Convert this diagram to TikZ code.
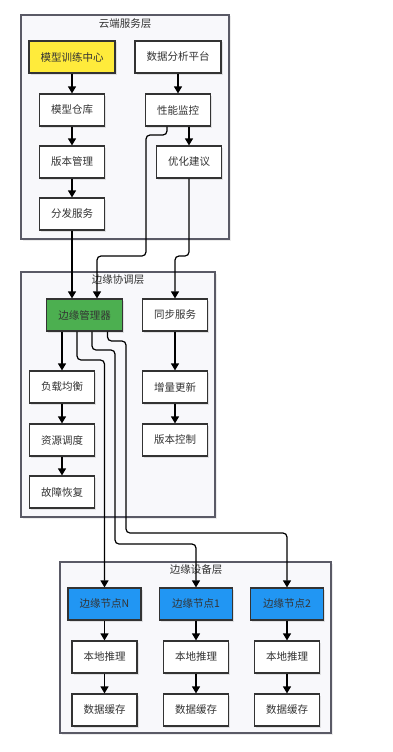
\documentclass[tikz,border=0pt]{standalone}
\usepackage{fontspec}
\setmainfont{Noto Sans CJK SC}
\usetikzlibrary{arrows.meta, shadows}

\definecolor{layerfill}{HTML}{F8F8FB}
\definecolor{layerline}{HTML}{5A5A66}
\definecolor{boxline}{HTML}{333333}
\definecolor{trainfill}{HTML}{FFEB3B}
\definecolor{mgrfill}{HTML}{4CAF50}
\definecolor{edgefill}{HTML}{2196F3}

\begin{document}
\begin{tikzpicture}[x=1pt, y=-1pt, font=\fontsize{10.5}{12}\selectfont, text=boxline,
    layer/.style={draw=layerline, fill=layerfill, line width=1.2pt,
      drop shadow={opacity=0.15, shadow xshift=1.5pt, shadow yshift=-1.5pt}},
    title/.style={inner sep=0pt},
    box/.style={draw=boxline, fill=white, line width=1.2pt, minimum width=65pt,
      minimum height=32pt, inner sep=2pt,
      drop shadow={opacity=0.2, shadow xshift=1.5pt, shadow yshift=-1.5pt}},
    wide/.style={box, minimum width=86pt},
    flow/.style={-{Triangle[width=8pt, length=7pt]}, draw=black, line width=1.2pt,
      rounded corners=4pt}]
    \useasboundingbox (0,0) rectangle (392,752);

    % layers
    \draw[layer] (21,15) rectangle (229,239);
    \node[title] (cloudtitle) at (125,23.5) {云端服务层};
    \draw[layer] (21,272) rectangle (215,517);
    \node[title] (coordtitle) at (118,280) {边缘协调层};
    \draw[layer] (60,562) rectangle (331,733);
    \node[title] (devtitle) at (196,570) {边缘设备层};

    % cloud
    \node[wide, fill=trainfill] (train) at (72,57) {模型训练中心};
    \node[wide] (analy) at (178,57) {数据分析平台};
    \node[box] (store) at (72,110) {模型仓库};
    \node[box] (monitor) at (178,110) {性能监控};
    \node[box] (version) at (72,162) {版本管理};
    \node[box] (advice) at (189,162) {优化建议};
    \node[box] (dist) at (72,214) {分发服务};

    % coordination
    \node[box, minimum width=76pt, fill=mgrfill] (mgr) at (84.5,315) {边缘管理器};
    \node[box] (sync) at (175,315) {同步服务};
    \node[box] (balance) at (62,387) {负载均衡};
    \node[box] (incr) at (175,387) {增量更新};
    \node[box] (sched) at (62,440) {资源调度};
    \node[box] (vctrl) at (175,440) {版本控制};
    \node[box] (recover) at (62,492) {故障恢复};

    \draw[flow] (train) -- (store);
    \draw[flow] (store) -- (version);
    \draw[flow] (version) -- (dist);
    \draw[flow] (analy) -- (monitor);
    \draw[flow] ([xshift=11pt]monitor.south) -- (advice.north);
    \draw[flow] (dist.south) -- (dist.south |- mgr.north);
    \draw[flow] ([xshift=-11pt]monitor.south) |- (146,135) |- (97,256)
        -- ([xshift=12.5pt]mgr.north);
    \draw[flow] (advice.south) |- (175,256) -- (sync.north);

    \draw[flow] (balance.north |- mgr.south) -- (balance.north);
    \draw[flow] (balance) -- (sched);
    \draw[flow] (sched) -- (recover);
    \draw[flow] (sync) -- (incr);
    \draw[flow] (incr) -- (vctrl);

    % devices
    \foreach \i/\x in {N/104.5, 1/196, 2/287} {
      \node[box, minimum width=73pt, fill=edgefill] (edge\i) at (\x,604) {边缘节点\i};
      \node[box] (infer\i) at (\x,657) {本地推理};
      \node[box] (cache\i) at (\x,710) {数据缓存};
      \draw[flow] (edge\i) -- (infer\i);
      \draw[flow] (infer\i) -- (cache\i);
    }

    \draw[flow] ([xshift=-7.5pt]mgr.south) |- (104.5,360) -- (edgeN.north);
    \draw[flow] ([xshift=7.5pt]mgr.south) |- (115,350) |- (196,544) -- (edge1.north);
    \draw[flow] ([xshift=23pt]mgr.south) |- (126,341) |- (287,533) -- (edge2.north);
  \end{tikzpicture}
\end{document}
